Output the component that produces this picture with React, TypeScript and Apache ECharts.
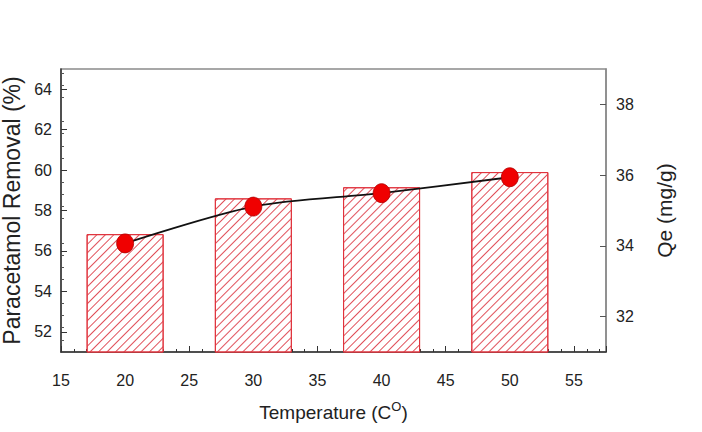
import React, { useEffect, useRef } from "react";
import * as echarts from "echarts";

const temperatures = [20, 30, 40, 50];
const removalPercent = [56.83, 58.6, 59.15, 59.9];
const qeValues = [34.07, 35.11, 35.49, 35.94];
const leftTickValues = [52, 54, 56, 58, 60, 62, 64];
const rightTickValues = [32, 34, 36, 38];
const xTickLabels = [15, 20, 25, 30, 35, 40, 45, 50, 55];

const FONT = "'Liberation Sans', Arial, sans-serif";

export default function App() {
  const ref = useRef<HTMLDivElement>(null);
  useEffect(() => {
    if (!ref.current) return;
    const chart = echarts.init(ref.current, null, { renderer: "svg" });
    const barData = temperatures.map((t, i) => [t, removalPercent[i]]);
    const lineData = temperatures.map((t, i) => [t, qeValues[i]]);
    chart.setOption({
      animation: false,
      backgroundColor: "#fff",
      grid: {
        left: 61,
        right: 96,
        top: 69,
        bottom: 80,
        show: true,
        borderColor: "#8a8a8a",
        borderWidth: 1.5,
        backgroundColor: "transparent",
        containLabel: false,
        outerBoundsMode: "none",
      },
      xAxis: {
        type: "value",
        min: 15,
        max: 57.5,
        interval: 5,
        name: "Temperature (C{sup|O})",
        nameLocation: "middle",
        nameGap: 48,
        nameTextStyle: {
          fontFamily: FONT,
          fontSize: 19,
          color: "#222",
          rich: {
            sup: { fontFamily: FONT, fontSize: 13, verticalAlign: "bottom", padding: [0, 0, 11, 0], color: "#222" },
          },
        },
        axisLine: { show: true, onZero: false, lineStyle: { color: "#333", width: 1.5 } },
        axisTick: { show: true, inside: true, length: 6, lineStyle: { color: "#333" } },
        minorTick: { show: true, splitNumber: 5, length: 3, lineStyle: { color: "#333" } },
        splitLine: { show: false },
        axisLabel: {
          fontFamily: FONT,
          fontSize: 16,
          color: "#222",
          margin: 20,
          showMaxLabel: false,
          formatter: (v: number) => (xTickLabels.includes(v) ? String(v) : ""),
        },
      },
      yAxis: [
        {
          type: "value",
          position: "left",
          min: 51,
          max: 65,
          name: "Paracetamol Removal (%)",
          nameLocation: "middle",
          nameRotate: 90,
          nameGap: 38,
          nameTextStyle: { fontFamily: FONT, fontSize: 23, color: "#222" },
          axisLine: { show: true, onZero: false, lineStyle: { color: "#333", width: 1.5 } },
          axisTick: { show: true, inside: true, length: 6, customValues: leftTickValues, lineStyle: { color: "#333" } },
          minorTick: { show: true, splitNumber: 5, length: 3, lineStyle: { color: "#555" } },
          axisLabel: { fontFamily: FONT, fontSize: 16, color: "#222", margin: 9, customValues: leftTickValues },
          splitLine: { show: false },
        },
        {
          type: "value",
          position: "right",
          min: 31,
          max: 39,
          name: "Qe (mg/g)",
          nameLocation: "middle",
          nameRotate: 90,
          nameGap: 48,
          nameTextStyle: { fontFamily: FONT, fontSize: 21, color: "#222" },
          axisLine: { show: true, onZero: false, lineStyle: { color: "#8a8a8a", width: 1.5 } },
          axisTick: { show: true, inside: true, length: 6, customValues: rightTickValues, lineStyle: { color: "#555" } },
          axisLabel: { fontFamily: FONT, fontSize: 16, color: "#222", margin: 10, customValues: rightTickValues },
          splitLine: { show: false },
        },
      ],
      series: [
        {
          type: "bar",
          yAxisIndex: 0,
          data: barData,
          barWidth: 77,
          itemStyle: {
            color: "#fff",
            borderColor: "#e0323c",
            borderWidth: 1,
            decal: {
              symbol: "rect",
              color: "#e0505a",
              dashArrayX: [1, 0],
              dashArrayY: [1, 5],
              rotation: -Math.PI / 4,
              symbolSize: 1,
            },
          },
          z: 1,
        },
        {
          type: "line",
          yAxisIndex: 1,
          data: lineData,
          smooth: 0.3,
          symbol: "circle",
          symbolSize: [17, 19],
          lineStyle: { color: "#111", width: 1.8 },
          itemStyle: { color: "#f00000", borderColor: "#b00000", borderWidth: 0.8 },
          z: 3,
        },
      ],
    });
    return () => chart.dispose();
  }, []);
  return <div ref={ref} style={{ position: "absolute", left: 0, top: 0, width: 702, height: 432 }} />;
}
